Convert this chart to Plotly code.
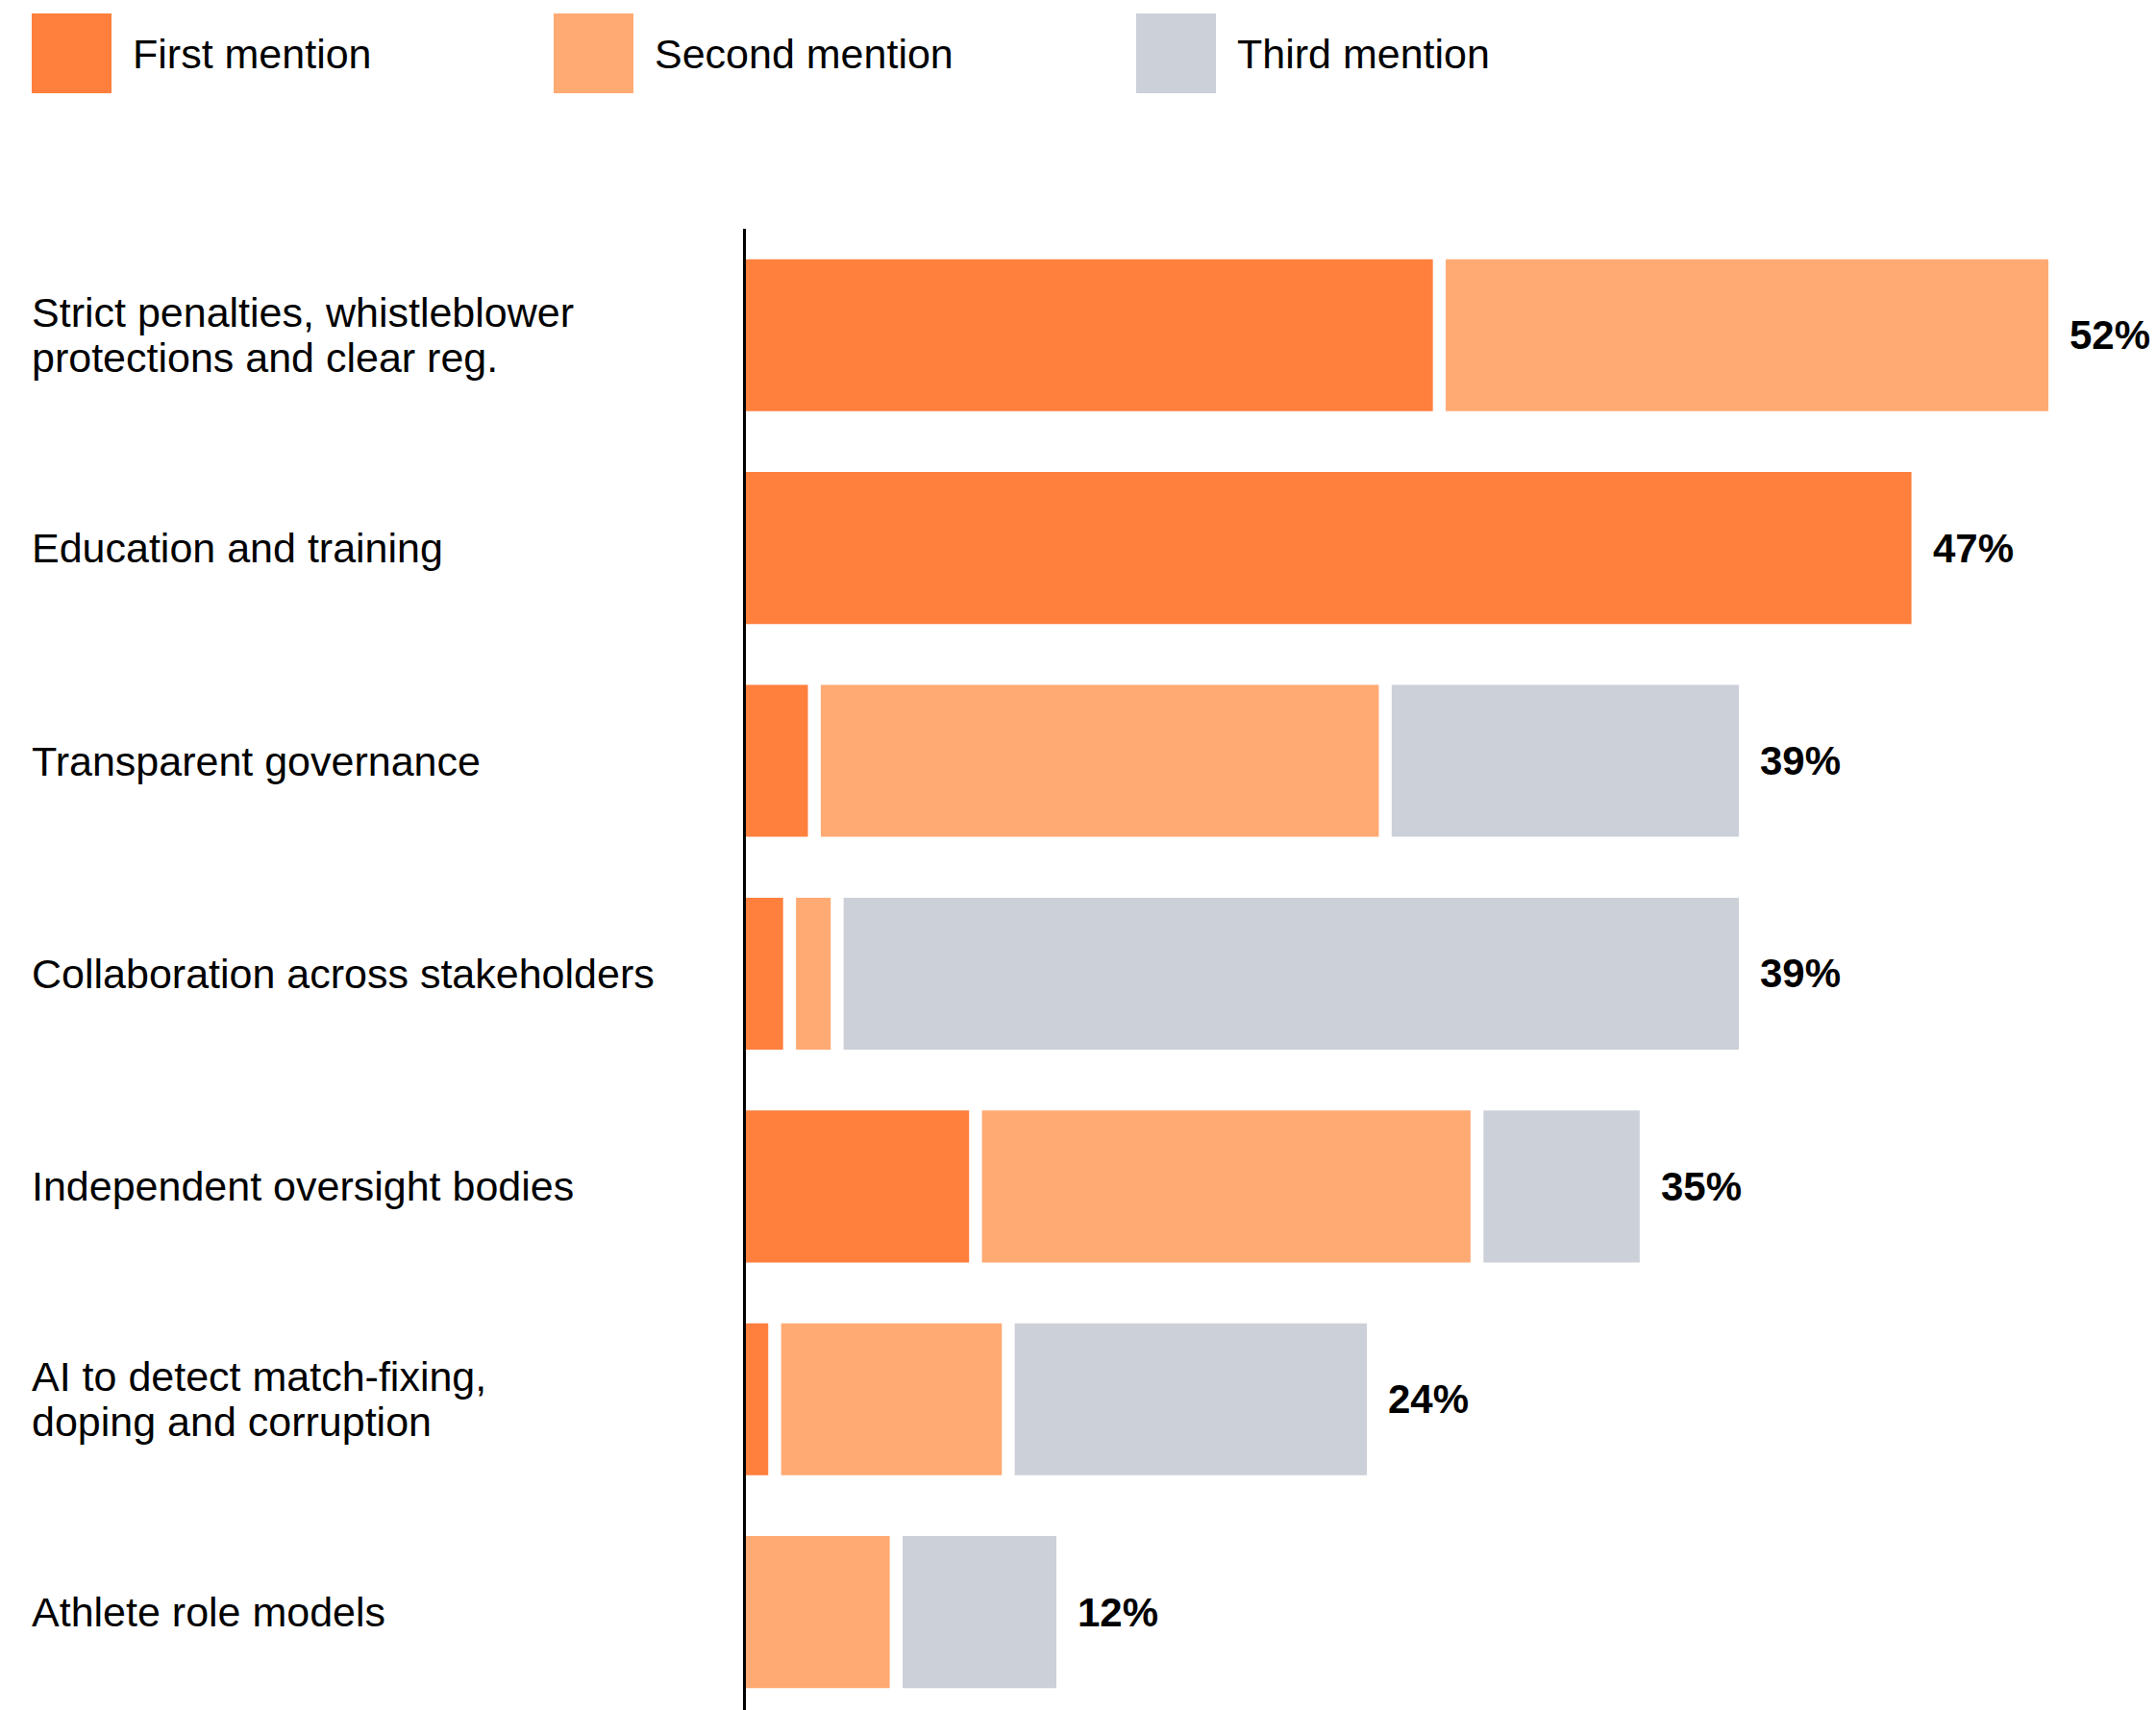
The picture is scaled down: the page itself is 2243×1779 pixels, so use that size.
import plotly.graph_objects as go

# ---- data -----------------------------------------------------------------
categories = [
    "Strict penalties, whistleblower<br>protections and clear reg.",
    "Education and training",
    "Transparent governance",
    "Collaboration across stakeholders",
    "Independent oversight bodies",
    "AI to detect match-fixing,<br>doping and corruption",
    "Athlete role models",
]
first_mention = [27.7, 47, 2.5, 1.5, 9.0, 0.9, None]
second_mention = [24.3, None, 22.5, 1.4, 19.7, 8.9, 5.8]
third_mention = [None, None, 14.0, 36.1, 6.3, 14.2, 6.2]
totals = [52, 47, 39, 39, 35, 24, 12]

series_names = ["First mention", "Second mention", "Third mention"]
series_values = [first_mention, second_mention, third_mention]
series_colors = ["#FF7F3D", "#FFAA73", "#CCD0D8"]

# ---- layout constants -------------------------------------------------------
W, H = 2243, 1779
PLOT_LEFT = 776
PLOT_TOP = 238
FONT = "Liberation Sans, Arial, Helvetica, sans-serif"
TEXT_SIZE = 43
LINE_GAP = 47
GAP = 0.52          # white spacing between segments of one bar, in axis units
X_MAX = 56.86


def px_x(px):
    return (px - PLOT_LEFT) / (W - PLOT_LEFT)


def px_y(py):
    return (H - py) / (H - PLOT_TOP)


# Segment start positions: each segment follows the previous one plus a gap
bases = [[None] * len(categories) for _ in series_values]
bar_ends = []
for i in range(len(categories)):
    pos = 0.0
    for s, vals in enumerate(series_values):
        v = vals[i]
        if v is None:
            continue
        bases[s][i] = pos
        pos += v + GAP
    bar_ends.append(pos - GAP)

fig = go.Figure()

for name, vals, base, color in zip(series_names, series_values, bases, series_colors):
    fig.add_trace(
        go.Bar(
            y=categories,
            x=vals,
            base=base,
            orientation="h",
            name=name,
            marker=dict(color=color, line=dict(width=0)),
            showlegend=False,
            hovertemplate="%{x}%<extra>" + name + "</extra>",
        )
    )

fig.update_layout(
    barmode="overlay",
    bargap=0.286,
    width=W,
    height=H,
    margin=dict(l=PLOT_LEFT, r=0, t=PLOT_TOP, b=0, pad=0),
    paper_bgcolor="white",
    plot_bgcolor="white",
    showlegend=False,
    font=dict(family=FONT, color="#000"),
)
fig.update_xaxes(range=[0, X_MAX], visible=False)
fig.update_yaxes(
    type="category",
    categoryorder="array",
    categoryarray=categories,
    range=[6.46, -0.5],
    showticklabels=False,
    showgrid=False,
    zeroline=False,
    showline=True,
    linecolor="#000",
    linewidth=3,
    ticks="",
)

# Category labels, left aligned at the page edge
label_x = px_x(31)
for cat in categories:
    lines = cat.split("<br>")
    n = len(lines)
    for i, line in enumerate(lines):
        shift = (n - 1) / 2 * LINE_GAP - i * LINE_GAP
        fig.add_annotation(
            x=label_x, xref="paper", y=cat, yref="y",
            text=line, xanchor="left", yanchor="middle", yshift=shift,
            showarrow=False, font=dict(size=TEXT_SIZE, color="#000", family=FONT),
        )

# Totals just past the end of each bar
for cat, total, end in zip(categories, totals, bar_ends):
    fig.add_annotation(
        x=end, xref="x", y=cat, yref="y",
        text=f"{total}%", xanchor="left", yanchor="middle", xshift=20,
        showarrow=False,
        font=dict(size=42, color="#000", family=FONT, weight="bold"),
    )

# Legend drawn as large swatches with labels
swatch_left = [33, 576, 1182]
text_left = [136, 679, 1285]
for name, color, sx, tx in zip(series_names, series_colors, swatch_left, text_left):
    fig.add_shape(
        type="rect", xref="paper", yref="paper",
        x0=px_x(sx), x1=px_x(sx + 83), y0=px_y(97), y1=px_y(14),
        fillcolor=color, line=dict(width=0), layer="above",
    )
    fig.add_annotation(
        x=px_x(tx), xref="paper", y=px_y(55.5), yref="paper",
        text=name, xanchor="left", yanchor="middle", showarrow=False,
        font=dict(size=TEXT_SIZE, color="#000", family=FONT),
    )

fig.write_html("out.html")
